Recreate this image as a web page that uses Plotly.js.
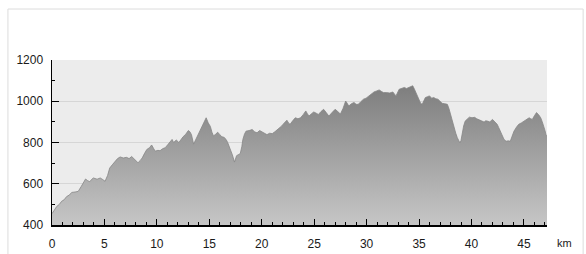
<!DOCTYPE html>
<html>
<head>
<meta charset="utf-8">
<script src="https://cdn.plot.ly/plotly-3.0.1.min.js"></script>
<style>
html,body{margin:0;padding:0;background:#fff;}
#chart{width:586px;height:254px;}
</style>
</head>
<body>
<div id="chart"></div>
<script>
const distanceKm = [0,0.2,0.45,0.7,0.92,1.15,1.4,1.65,1.88,2.2,2.5,2.8,3.0,3.2,3.4,3.6,3.8,3.95,4.3,4.6,4.85,5.06,5.3,5.5,5.75,6.0,6.25,6.5,6.8,7.1,7.35,7.6,7.9,8.2,8.4,8.6,8.8,9.04,9.3,9.5,9.7,9.84,10.1,10.3,10.55,10.8,11.05,11.3,11.45,11.6,11.85,12.1,12.3,12.5,12.75,13.0,13.15,13.3,13.5,13.8,14.05,14.3,14.5,14.7,14.9,15.1,15.25,15.4,15.6,15.8,16.0,16.2,16.4,16.6,16.75,16.9,17.05,17.2,17.4,17.6,17.8,17.95,18.1,18.2,18.35,18.5,18.8,19.1,19.3,19.55,19.8,20.0,20.25,20.5,20.75,21.0,21.25,21.5,21.7,21.9,22.15,22.4,22.55,22.7,22.95,23.2,23.45,23.7,23.95,24.2,24.35,24.5,24.75,24.96,25.2,25.4,25.65,25.9,26.15,26.4,26.7,27.0,27.25,27.5,27.75,28.0,28.15,28.3,28.55,28.8,29.0,29.2,29.45,29.7,29.95,30.2,30.45,30.7,30.95,31.2,31.4,31.6,31.9,32.2,32.5,32.8,33.1,33.35,33.6,33.8,34.0,34.2,34.4,34.55,34.7,34.85,35.0,35.15,35.3,35.45,35.6,35.8,36.0,36.2,36.4,36.6,36.8,37.0,37.2,37.45,37.7,37.85,38.0,38.15,38.3,38.5,38.65,38.8,38.9,39.0,39.1,39.25,39.4,39.6,39.8,40.05,40.3,40.5,40.7,40.95,41.2,41.35,41.5,41.75,42.0,42.15,42.3,42.45,42.6,42.8,42.95,43.1,43.3,43.5,43.7,43.9,44.05,44.3,44.5,44.75,45.0,45.25,45.5,45.65,45.8,46.0,46.2,46.4,46.6,46.75,46.9,47.0,47.1,47.2];
const elevationM = [455,470,490,500,515,522,538,545,558,560,563,588,605,623,615,610,622,628,622,628,620,612,640,676,692,709,722,730,725,728,722,732,717,702,712,725,745,766,775,788,770,758,762,760,770,775,790,808,815,800,812,800,815,828,840,858,852,838,792,823,850,880,900,920,895,878,850,832,840,850,838,828,825,815,800,782,760,740,705,736,742,746,780,815,840,855,858,863,852,847,858,852,845,838,845,843,852,863,868,880,895,908,895,888,905,920,915,920,935,953,940,928,940,948,942,936,950,961,945,928,945,961,950,938,965,1001,990,977,988,994,985,985,998,1010,1015,1026,1035,1045,1050,1055,1048,1042,1042,1040,1045,1026,1058,1062,1067,1062,1067,1070,1075,1060,1042,1020,1001,990,985,1000,1018,1022,1026,1015,1018,1012,1010,1000,990,988,985,965,937,905,872,845,823,808,798,810,847,880,904,915,923,920,922,915,912,905,899,905,904,900,912,905,896,888,872,850,831,815,806,808,806,830,855,875,888,895,904,910,920,915,912,930,945,935,920,900,880,860,839,832];
const xTickVals = [0,5,10,15,20,25,30,35,40,45];
const xTickText = ['0','5','10','15','20','25','30','35','40','45'];
const yTickVals = [400,600,800,1000,1200];
const yTickText = ['400','600','800','1000','1200'];
const xUnit = 'km';

const labelFont = {family: 'Liberation Sans, Arial, sans-serif', size: 12, color: '#1a1a1a'};

const trace = {
  type: 'scatter',
  mode: 'lines',
  x: distanceKm,
  y: elevationM,
  fill: 'tozeroy',
  line: {color: '#858585', width: 0.8},
  fillgradient: {
    type: 'vertical',
    start: 400,
    stop: 1100,
    colorscale: [[0, '#c6c6c6'], [1, '#7b7b7b']]
  },
  hoverinfo: 'skip'
};

const layout = {
  width: 586,
  height: 254,
  margin: {l: 52, r: 39, t: 60, b: 29, pad: 0},
  paper_bgcolor: '#ffffff',
  plot_bgcolor: '#ececec',
  showlegend: false,
  font: labelFont,
  xaxis: {
    range: [0, 47.2],
    tickvals: xTickVals,
    ticktext: xTickText,
    tickfont: labelFont,
    ticks: 'inside',
    ticklen: 6,
    tickcolor: '#000',
    tickwidth: 1,
    ticklabelstandoff: 7,
    showline: true,
    linecolor: '#000',
    linewidth: 1.5,
    showgrid: false,
    zeroline: false,
    minor: {dtick: 1, tick0: 0, ticks: 'inside', ticklen: 3, tickcolor: '#000', showgrid: false},
    fixedrange: true
  },
  yaxis: {
    range: [400, 1200],
    tickvals: yTickVals,
    ticktext: yTickText,
    tickfont: labelFont,
    ticks: 'inside',
    ticklen: 7,
    tickcolor: '#000',
    tickwidth: 1,
    ticklabelstandoff: 5,
    showline: true,
    linecolor: '#000',
    linewidth: 1.5,
    showgrid: true,
    gridcolor: '#d6d6d6',
    gridwidth: 1,
    zeroline: false,
    minor: {dtick: 100, tick0: 400, ticks: 'inside', ticklen: 3, tickcolor: '#000', showgrid: false},
    fixedrange: true
  },
  annotations: [{
    text: xUnit,
    xref: 'paper', yref: 'paper',
    x: 1.036, y: -0.109,
    xanchor: 'center', yanchor: 'middle',
    showarrow: false,
    font: {family: 'Liberation Sans, Arial, sans-serif', size: 11, color: '#1a1a1a'}
  }],
  shapes: [{
    type: 'rect', xref: 'paper', yref: 'paper',
    x0: -0.089, x1: 1.073, y0: -0.3, y1: 1.309,
    line: {color: '#dcdcdc', width: 1},
    fillcolor: 'rgba(0,0,0,0)',
    layer: 'below'
  }]
};

Plotly.newPlot('chart', [trace], layout, {displayModeBar: false, staticPlot: true});
</script>
</body>
</html>
